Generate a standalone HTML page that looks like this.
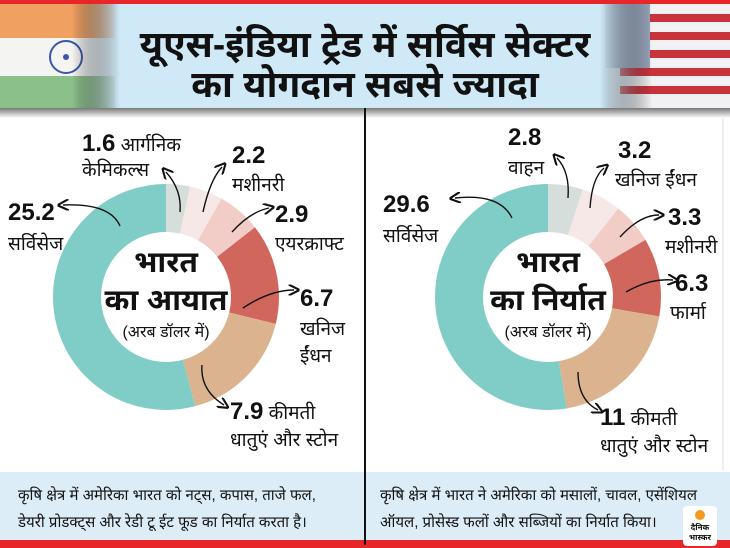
<!DOCTYPE html>
<html><head><meta charset="utf-8"><style>
html,body{margin:0;padding:0;width:730px;height:548px;overflow:hidden;background:#fff}
svg text{font-family:"Liberation Sans","Noto Sans Devanagari","Lohit Devanagari",sans-serif;fill:#111}
</style></head><body>
<svg width="730" height="548" viewBox="0 0 730 548" xmlns="http://www.w3.org/2000/svg">
<defs>
<linearGradient id="hdr" x1="0" x2="1"><stop offset="0" stop-color="#e9e4df"/><stop offset="0.18" stop-color="#cfe9f7"/><stop offset="0.82" stop-color="#cfe9f7"/><stop offset="1" stop-color="#d9dde3"/></linearGradient>
<linearGradient id="sh" x1="0" y1="0" x2="0" y2="1"><stop offset="0" stop-color="#777"/><stop offset="1" stop-color="#fff"/></linearGradient>
<linearGradient id="ind" x1="0" x2="1"><stop offset="0.6" stop-color="#000" stop-opacity="0"/><stop offset="1" stop-color="#cfe9f7"/></linearGradient>
<linearGradient id="usa" x1="1" x2="0"><stop offset="0.6" stop-color="#000" stop-opacity="0"/><stop offset="1" stop-color="#cfe9f7"/></linearGradient>
<marker id="ah" markerWidth="8" markerHeight="8" refX="4" refY="4" orient="auto"><path d="M0,0 L8,4 L0,8" fill="none" stroke="#111" stroke-width="1.5"/></marker>
</defs>
<rect x="0" y="0" width="730" height="108" fill="url(#hdr)"/>
<rect x="0" y="0" width="730" height="4" fill="#e8262a"/>
<rect x="0" y="4" width="115" height="34" fill="#f0a060"/>
<rect x="0" y="38" width="115" height="38" fill="#f4f4f2"/>
<rect x="0" y="76" width="115" height="32" fill="#8cc08a"/>
<circle cx="66" cy="57" r="16" fill="none" stroke="#3a57a8" stroke-width="2"/>
<circle cx="66" cy="57" r="3" fill="#3a57a8"/>
<rect x="0" y="4" width="120" height="104" fill="url(#ind)"/>
<rect x="610" y="4" width="120" height="104" fill="#f1f1f3"/>
<g fill="#c8323a"><rect x="650" y="14" width="80" height="8"/><rect x="650" y="32" width="80" height="8"/><rect x="650" y="50" width="80" height="8"/><rect x="620" y="68" width="110" height="8"/><rect x="620" y="86" width="110" height="8"/></g>
<rect x="605" y="4" width="45" height="64" fill="#9aa6bd"/>
<rect x="600" y="4" width="130" height="104" fill="url(#usa)"/>
<text x="365" y="57" font-size="37" font-weight="bold" text-anchor="middle">यूएस-इंडिया ट्रेड में सर्विस सेक्टर</text>
<text x="365" y="97" font-size="37" font-weight="bold" text-anchor="middle">का योगदान सबसे ज्यादा</text>
<rect x="0" y="108" width="730" height="10" fill="url(#sh)"/>
<rect x="0" y="472" width="730" height="68" fill="#dcedf8"/>
<rect x="0" y="540" width="730" height="8" fill="#e8262a"/>
<line x1="365" y1="108" x2="365" y2="545" stroke="#111" stroke-width="2"/>
<line x1="723" y1="118" x2="723" y2="470" stroke="#ddd" stroke-width="1"/>
<text x="18" y="500" font-size="15">कृषि क्षेत्र में अमेरिका भारत को नट्स, कपास, ताजे फल,</text>
<text x="18" y="527" font-size="15">डेयरी प्रोडक्ट्स और रेडी टू ईट फूड का निर्यात करता है।</text>
<text x="380" y="500" font-size="15">कृषि क्षेत्र में भारत ने अमेरिका को मसालों, चावल, एसेंशियल</text>
<text x="380" y="527" font-size="15">ऑयल, प्रोसेस्ड फलों और सब्जियों का निर्यात किया।</text>
<rect x="683" y="506" width="34" height="40" rx="4" fill="#fff"/>
<circle cx="700" cy="515" r="5" fill="#f39a1e"/>
<text x="700" y="530" font-size="8" font-weight="bold" text-anchor="middle">दैनिक</text>
<text x="700" y="540" font-size="8" font-weight="bold" text-anchor="middle">भास्कर</text>

<g transform="translate(166,297) rotate(-90)" fill="none" stroke-width="48">
<circle r="89" stroke="#d5dedb" stroke-dasharray="19.24 600" stroke-dashoffset="0"/>
<circle r="89" stroke="#f6e8e7" stroke-dasharray="26.46 600" stroke-dashoffset="-19.24"/>
<circle r="89" stroke="#f2cdc8" stroke-dasharray="34.88 600" stroke-dashoffset="-45.70"/>
<circle r="89" stroke="#d1665d" stroke-dasharray="80.58 600" stroke-dashoffset="-80.58"/>
<circle r="89" stroke="#dbb48f" stroke-dasharray="95.01 600" stroke-dashoffset="-161.16"/>
<circle r="89" stroke="#80cdc7" stroke-dasharray="303.07 600" stroke-dashoffset="-256.17"/>
</g>
<text x="166" y="272" font-size="30" font-weight="bold" text-anchor="middle">भारत</text>
<text x="166" y="310" font-size="30" font-weight="bold" text-anchor="middle">का आयात</text>
<text x="166" y="337" font-size="16" text-anchor="middle">(अरब डॉलर में)</text>

<g transform="translate(548,297) rotate(-90)" fill="none" stroke-width="48">
<circle r="89" stroke="#d5dedb" stroke-dasharray="27.86 600" stroke-dashoffset="0"/>
<circle r="89" stroke="#f6e8e7" stroke-dasharray="31.84 600" stroke-dashoffset="-27.86"/>
<circle r="89" stroke="#f2cdc8" stroke-dasharray="32.84 600" stroke-dashoffset="-59.70"/>
<circle r="89" stroke="#d1665d" stroke-dasharray="62.69 600" stroke-dashoffset="-92.54"/>
<circle r="89" stroke="#dbb48f" stroke-dasharray="109.45 600" stroke-dashoffset="-155.23"/>
<circle r="89" stroke="#80cdc7" stroke-dasharray="294.53 600" stroke-dashoffset="-264.68"/>
</g>
<text x="548" y="272" font-size="30" font-weight="bold" text-anchor="middle">भारत</text>
<text x="548" y="310" font-size="30" font-weight="bold" text-anchor="middle">का निर्यात</text>
<text x="548" y="337" font-size="16" text-anchor="middle">(अरब डॉलर में)</text>

<g fill="none" stroke="#111" stroke-width="1.4" marker-end="url(#ah)">
<path d="M180,212 Q182,190 166,172"/>
<path d="M203,212 Q210,180 222,167"/>
<path d="M232,232 Q250,212 269,208"/>
<path d="M243,308 Q270,290 294,290"/>
<path d="M202,365 Q200,390 224,405"/>
<path d="M120,226 Q110,203 63,205"/>
</g>
<text x="82" y="151"><tspan font-size="24" font-weight="bold">1.6</tspan><tspan font-size="19"> आर्गनिक</tspan></text>
<text x="82" y="176" font-size="19">केमिकल्स</text>
<text x="232" y="163" font-size="24" font-weight="bold">2.2</text>
<text x="232" y="191" font-size="19">मशीनरी</text>
<text x="275" y="222" font-size="24" font-weight="bold">2.9</text>
<text x="275" y="250" font-size="19">एयरक्राफ्ट</text>
<text x="300" y="306" font-size="24" font-weight="bold">6.7</text>
<text x="300" y="335" font-size="19">खनिज</text>
<text x="300" y="362" font-size="19">ईंधन</text>
<text x="230" y="419"><tspan font-size="24" font-weight="bold">7.9</tspan><tspan font-size="19"> कीमती</tspan></text>
<text x="230" y="446" font-size="19">धातुएं और स्टोन</text>
<text x="8" y="220" font-size="24" font-weight="bold">25.2</text>
<text x="8" y="250" font-size="19">सर्विसेज</text>

<g fill="none" stroke="#111" stroke-width="1.4" marker-end="url(#ah)">
<path d="M568,198 Q570,172 557,158"/>
<path d="M590,208 Q592,178 604,168"/>
<path d="M620,237 Q640,215 659,215"/>
<path d="M626,292 Q650,278 673,280"/>
<path d="M578,372 Q578,400 598,410"/>
<path d="M512,218 Q500,193 455,198"/>
</g>
<text x="508" y="145" font-size="24" font-weight="bold">2.8</text>
<text x="508" y="174" font-size="19">वाहन</text>
<text x="618" y="158" font-size="24" font-weight="bold">3.2</text>
<text x="615" y="186" font-size="19">खनिज ईंधन</text>
<text x="668" y="225" font-size="24" font-weight="bold">3.3</text>
<text x="665" y="253" font-size="19">मशीनरी</text>
<text x="675" y="291" font-size="24" font-weight="bold">6.3</text>
<text x="670" y="319" font-size="19">फार्मा</text>
<text x="600" y="425"><tspan font-size="24" font-weight="bold">11</tspan><tspan font-size="19"> कीमती</tspan></text>
<text x="600" y="452" font-size="19">धातुएं और स्टोन</text>
<text x="383" y="212" font-size="24" font-weight="bold">29.6</text>
<text x="383" y="242" font-size="19">सर्विसेज</text>
</svg>
</body></html>
